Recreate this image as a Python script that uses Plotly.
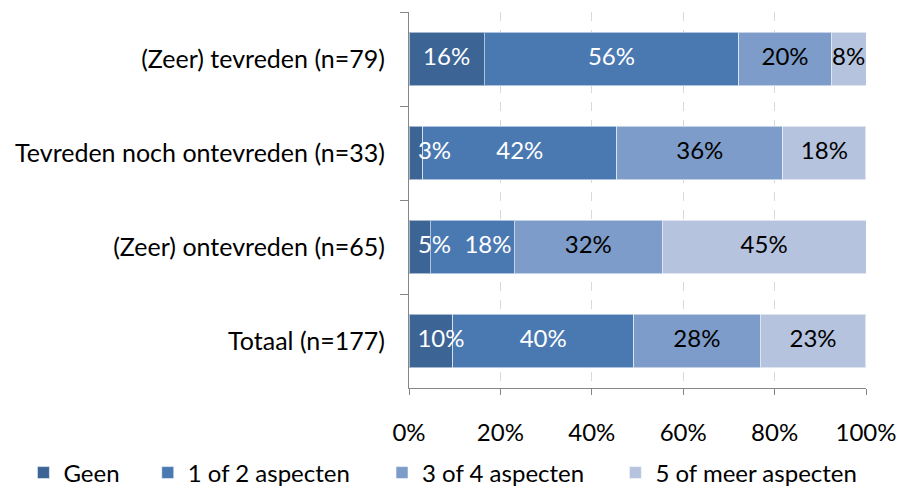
import plotly.graph_objects as go

# Satisfaction groups (top to bottom) and share of respondents per number of aspects
categories = [
    "(Zeer) tevreden (n=79)",
    "Tevreden noch ontevreden (n=33)",
    "(Zeer) ontevreden (n=65)",
    "Totaal (n=177)",
]
series_names = ["Geen", "1 of 2 aspecten", "3 of 4 aspecten", "5 of meer aspecten"]
geen = [16.46, 3.03, 4.62, 9.60]
een_of_twee = [55.70, 42.42, 18.46, 39.55]
drie_of_vier = [20.25, 36.36, 32.31, 27.68]
vijf_of_meer = [7.59, 18.18, 44.62, 23.16]
x_ticks = [0, 20, 40, 60, 80, 100]

series_values = [geen, een_of_twee, drie_of_vier, vijf_of_meer]
colors = ["#3C6494", "#4A79B2", "#7D9CC9", "#B5C3DE"]
text_colors = ["white", "white", "black", "black"]
legend_ids = ["legend", "legend2", "legend3", "legend4"]
legend_x = [0.026, 0.164, 0.424, 0.683]

FONT = "Lato"
FS = 24
MARGIN_L, MARGIN_R = 409, 35
PLOT_W = 901 - MARGIN_L - MARGIN_R


def label_px_width(s):
    # rough rendered width of a percentage label at FS px
    return 13 * sum(ch.isdigit() for ch in s) + 20


# Label centres: segment midpoint, nudged right when a label would run past
# the axis or collide with the label of the previous segment.
label_text = [[f"{v:.0f}%" for v in vals] for vals in series_values]
label_x = [[0.0] * len(categories) for _ in series_values]
for i in range(len(categories)):
    cum = 0.0
    prev_right = 9 - 14
    for j, vals in enumerate(series_values):
        v = vals[i]
        mid_px = (cum + v / 2) / 100 * PLOT_W
        w = label_px_width(label_text[j][i])
        centre = max(mid_px, prev_right + 14 + w / 2)
        label_x[j][i] = centre / PLOT_W
        prev_right = centre + w / 2
        cum += v

fig = go.Figure()
for name, vals, col, lid in zip(series_names, series_values, colors, legend_ids):
    fig.add_trace(go.Bar(
        name=name,
        y=categories,
        x=[v / 100 for v in vals],
        orientation="h",
        marker=dict(color=col, line=dict(color="rgba(255,255,255,0.55)", width=1)),
        hoverinfo="skip",
        legend=lid,
    ))

for j, tcol in enumerate(text_colors):
    fig.add_trace(go.Scatter(
        x=label_x[j],
        y=categories,
        mode="text",
        text=label_text[j],
        textposition="middle center",
        textfont=dict(color=tcol, size=FS, family=FONT),
        cliponaxis=False,
        showlegend=False,
        hoverinfo="skip",
    ))

layout_legends = {}
for lid, lx in zip(legend_ids, legend_x):
    layout_legends[lid] = dict(
        xref="container", yref="container",
        x=lx, y=1 - 473 / 488,
        xanchor="left", yanchor="middle",
        font=dict(size=FS, family=FONT, color="black"),
        bgcolor="rgba(0,0,0,0)",
        borderwidth=0,
    )

fig.update_layout(
    barmode="stack",
    bargap=0.43,
    width=901, height=488,
    margin=dict(l=MARGIN_L, r=MARGIN_R, t=12, b=100, autoexpand=False),
    paper_bgcolor="white",
    plot_bgcolor="white",
    font=dict(family=FONT, size=FS, color="black"),
    showlegend=True,
    **layout_legends,
)

fig.update_xaxes(
    range=[0, 1],
    tickvals=[t / 100 for t in x_ticks],
    ticktext=[f"{t}%" for t in x_ticks],
    showgrid=True,
    gridcolor="#D9D9D9",
    griddash="dash",
    gridwidth=1,
    showline=True,
    linecolor="#868686",
    linewidth=1,
    ticks="outside",
    ticklen=6,
    tickcolor="#868686",
    ticklabelstandoff=17,
    tickfont=dict(size=FS, family=FONT, color="black"),
    zeroline=False,
    automargin=False,
)

fig.update_yaxes(
    categoryorder="array",
    categoryarray=categories,
    autorange="reversed",
    showline=True,
    linecolor="#868686",
    linewidth=1,
    ticks="outside",
    tickson="boundaries",
    ticklen=8,
    tickcolor="#868686",
    ticklabelstandoff=18,
    tickfont=dict(size=25, family=FONT, color="black"),
    showgrid=False,
    automargin=False,
)

fig.write_html("out.html")
